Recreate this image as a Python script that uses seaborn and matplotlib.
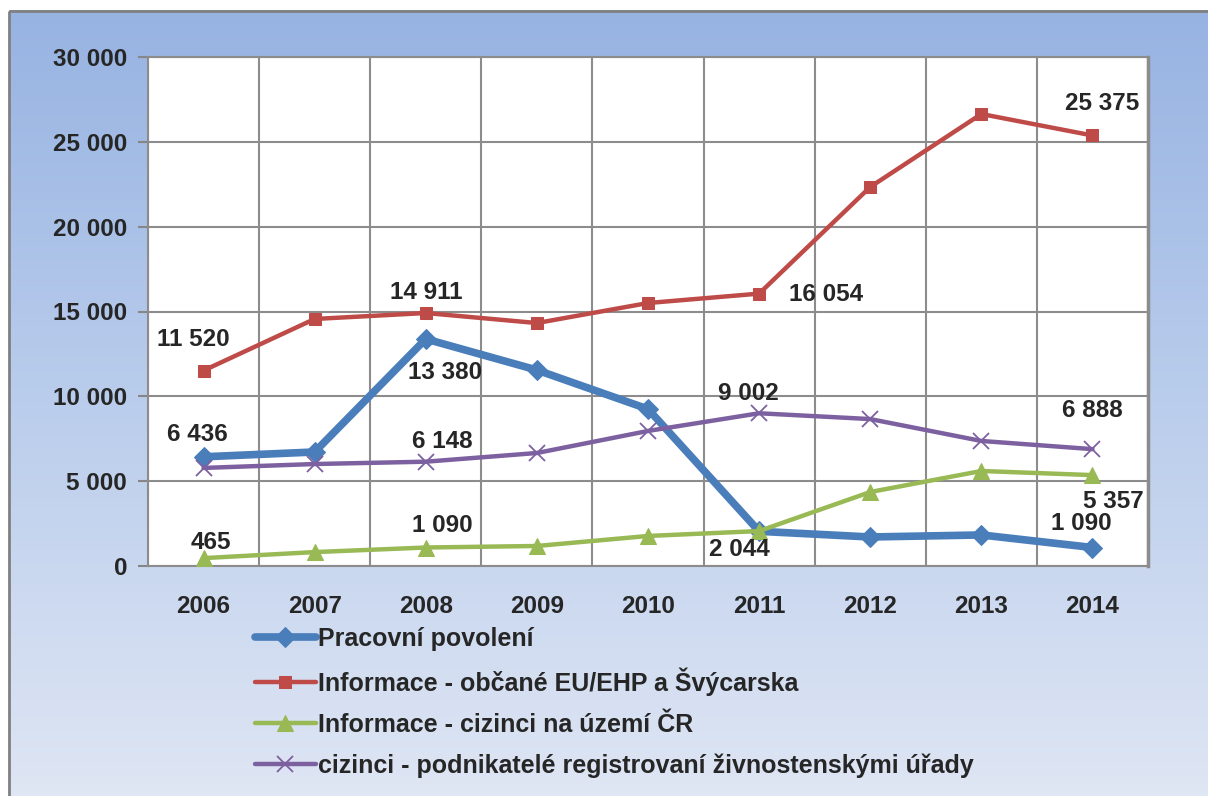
"""
Line chart: agendas of foreigners 2006-2014
"""

import numpy as np
import pandas as pd
import matplotlib
matplotlib.use('Agg')
import matplotlib.pyplot as plt
from matplotlib.colors import LinearSegmentedColormap
from matplotlib.patches import Rectangle
import seaborn as sns

years = ['2006', '2007', '2008', '2009', '2010', '2011', '2012', '2013', '2014']

pracovni = [6436, 6720, 13380, 11550, 9250, 2044, 1710, 1830, 1090]
obcane_eu = [11520, 14560, 14911, 14320, 15500, 16054, 22340, 26640, 25375]
cizinci_cr = [465, 820, 1090, 1180, 1770, 2060, 4360, 5600, 5357]
podnikatele = [5780, 6010, 6148, 6660, 7960, 9002, 8660, 7370, 6888]

series_names = [
    'Pracovní povolení',
    'Informace - občané EU/EHP a Švýcarska',
    'Informace - cizinci na území ČR',
    'cizinci - podnikatelé registrovaní živnostenskými úřady',
]
colors = ['#4A7EBB', '#BE4B48', '#98B954', '#7D60A0']

# (series index, year index, offset in pixels)
labels = [
    (1, 0, (-10, 31)), (0, 0, (-6, 22)), (2, 0, (7, 16)),
    (1, 2, (0, 21)), (0, 2, (19, -34)), (3, 2, (17, 20)), (2, 2, (17, 22)),
    (3, 5, (-11, 20)), (0, 5, (-20, -18)), (1, 5, (67, -1)),
    (1, 8, (10, 32)), (3, 8, (0, 39)), (2, 8, (21, -26)), (0, 8, (-11, 24)),
]

W, H = 1208, 796
sns.set_style('white')
plt.rcParams['font.family'] = ['Liberation Sans', 'DejaVu Sans']
plt.rcParams['font.weight'] = 'bold'

fig = plt.figure(figsize=(W / 100, H / 100), dpi=100)

# gradient background of the chart frame
bg = fig.add_axes([0, 0, 1, 1], zorder=-5)
bg.set_xlim(0, W)
bg.set_ylim(H, 0)
bg.axis('off')
cmap = LinearSegmentedColormap.from_list('bg', ['#97B3E2', '#BACDEC', '#DFE6F4'])
grad = np.linspace(0, 1, 256).reshape(-1, 1)
bg.imshow(grad, cmap=cmap, aspect='auto', extent=(9, W + 5, H, 10))
bg.add_patch(Rectangle((8.5, 10.5), W, H, fill=False, edgecolor='#808080', lw=2))

ax = fig.add_axes([148 / W, 1 - 566 / H, 1000 / W, 509 / H])
ax.set_facecolor('white')

df = pd.DataFrame({
    'idx': list(range(len(years))) * 4,
    'value': pracovni + obcane_eu + cizinci_cr + podnikatele,
    'series': np.repeat(series_names, len(years)),
})

styles = [
    dict(marker='D', markersize=10, linewidth=5.5),
    dict(marker='s', markersize=9, linewidth=3.2),
    dict(marker='^', markersize=11, linewidth=3.2),
    dict(marker='x', markersize=12, linewidth=3.2, markeredgewidth=1.3),
]
for name, col, st in zip(series_names, colors, styles):
    sub = df[df['series'] == name]
    sns.lineplot(data=sub, x='idx', y='value', color=col, ax=ax, label=name,
                 markeredgecolor=col, clip_on=False, zorder=3, **st)

all_vals = [pracovni, obcane_eu, cizinci_cr, podnikatele]
for si, yi, off in labels:
    v = all_vals[si][yi]
    ax.annotate(f'{v:,}'.replace(',', ' '), (yi, v), xytext=off,
                textcoords='offset pixels', ha='center', va='center',
                fontsize=17.5, fontweight='bold', zorder=5)

ax.set_xlim(-0.5, 8.5)
ax.set_ylim(0, 30000)
ax.set_xticks(np.arange(-0.5, 9, 1))
ax.set_xticklabels([])
ax.set_xticks(range(len(years)), minor=True)
ax.set_xticklabels(years, minor=True, fontsize=17.5, fontweight='bold')
ax.set_yticks(range(0, 30001, 5000))
ax.set_yticklabels([f'{t:,}'.replace(',', ' ') for t in range(0, 30001, 5000)],
                   fontsize=17.5, fontweight='bold')
ax.tick_params(axis='x', which='major', length=7, width=1.5, color='#868686')
ax.tick_params(axis='x', which='minor', length=0, pad=21)
ax.tick_params(axis='y', length=7, width=1.5, color='#868686', pad=8, left=True)
ax.grid(True, which='major', color='#8C8C8C', lw=1.5)
ax.set_axisbelow(True)
ax.set_xlabel('')
ax.set_ylabel('')
for s in ax.spines.values():
    s.set_color('#8C8C8C')
    s.set_linewidth(1.5)
ax.spines['right'].set_linewidth(2.5)

handles, lbls = ax.get_legend_handles_labels()
ax.get_legend().remove()
fig.legend(handles, lbls, loc='upper left', bbox_to_anchor=(245 / W, 1 - 617 / H),
           frameon=False, fontsize=18, handlelength=2.42, handletextpad=0.1,
           labelspacing=0.66, borderaxespad=0)

fig.savefig('out.png', dpi=100)
